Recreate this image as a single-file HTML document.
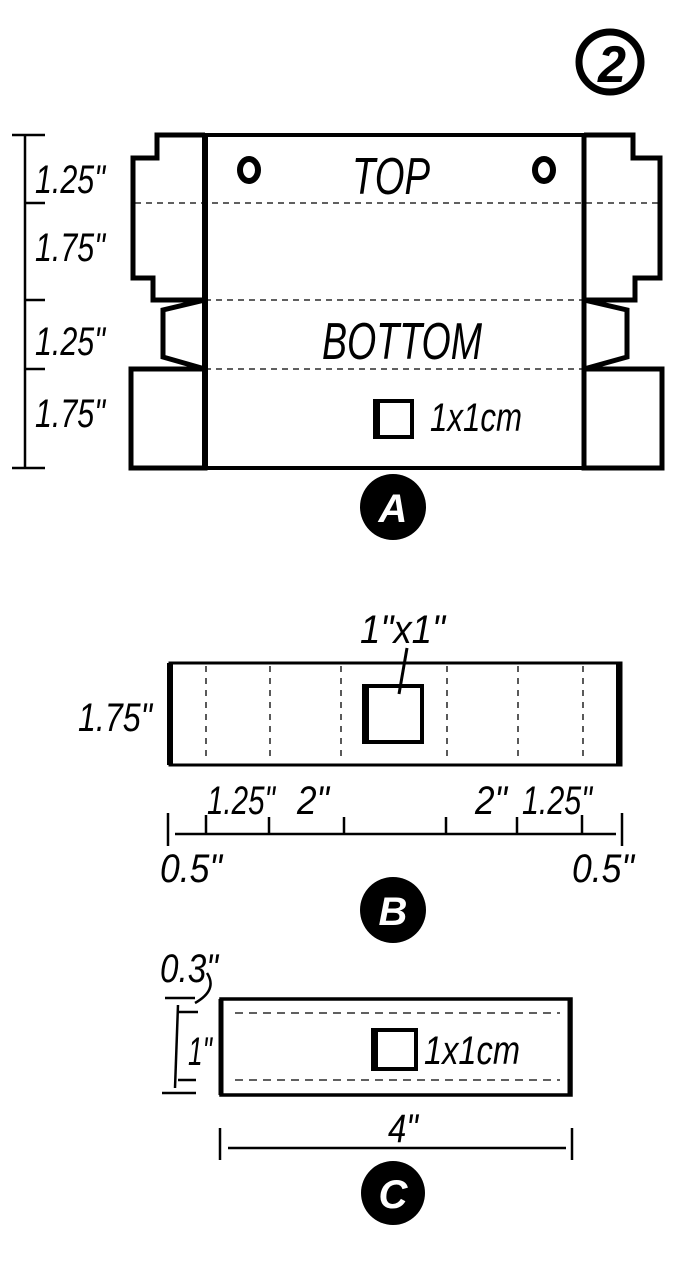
<!DOCTYPE html>
<html><head><meta charset="utf-8"><style>
html,body{margin:0;padding:0;background:#fff;}
svg{display:block}
text{font-family:"Liberation Sans",sans-serif;font-style:italic;fill:#000;}
</style></head><body>
<svg width="696" height="1266" viewBox="0 0 696 1266" xmlns="http://www.w3.org/2000/svg">
<g fill="none" stroke="#000" stroke-linejoin="miter">
<!-- top-right badge -->
<ellipse cx="610" cy="62" rx="31" ry="30" stroke-width="7"/>

<!-- Panel A -->
<rect x="205" y="135" width="379" height="333" stroke-width="4"/>
<line x1="205" y1="135" x2="205" y2="468" stroke-width="6"/>
<line x1="584" y1="135" x2="584" y2="468" stroke-width="5"/>
<path d="M205 135 L157 135 L157 158 L133 158 L133 278 L153 278 L153 300 L205 300" stroke-width="5"/>
<path d="M205 300 L163 310 L163 357 L205 369" stroke-width="5"/>
<rect x="131" y="369" width="74" height="99" stroke-width="5"/>
<path d="M584 135 L633 135 L633 158 L660 158 L660 278 L635 278 L635 300 L584 300" stroke-width="5"/>
<path d="M584 300 L627 310 L627 357 L584 369" stroke-width="5"/>
<rect x="584" y="369" width="78" height="99" stroke-width="5"/>
<g stroke-width="1.3" stroke-dasharray="6 5">
<line x1="135" y1="203" x2="658" y2="203"/>
<line x1="205" y1="300" x2="584" y2="300"/>
<line x1="205" y1="369" x2="584" y2="369"/>
</g>
<ellipse cx="249" cy="170" rx="9" ry="11" stroke-width="6"/>
<ellipse cx="544" cy="170" rx="9" ry="11" stroke-width="6"/>
<rect x="375" y="401" width="37" height="36" stroke-width="4"/>
<line x1="377" y1="401" x2="377" y2="437" stroke-width="6"/>
<g stroke-width="2.5">
<line x1="25" y1="135" x2="25" y2="468"/>
<line x1="12" y1="135" x2="45" y2="135"/>
<line x1="25" y1="203" x2="45" y2="203"/>
<line x1="25" y1="300" x2="45" y2="300"/>
<line x1="25" y1="369" x2="45" y2="369"/>
<line x1="12" y1="468" x2="45" y2="468"/>
</g>

<!-- Panel B -->
<rect x="170" y="663" width="451" height="102" stroke-width="3"/>
<line x1="170" y1="663" x2="170" y2="765" stroke-width="6"/>
<line x1="619" y1="663" x2="619" y2="765" stroke-width="6"/>
<g stroke-width="1.3" stroke-dasharray="6 6">
<line x1="206" y1="666" x2="206" y2="762"/>
<line x1="270" y1="666" x2="270" y2="762"/>
<line x1="341" y1="666" x2="341" y2="762"/>
<line x1="447" y1="666" x2="447" y2="762"/>
<line x1="518" y1="666" x2="518" y2="762"/>
<line x1="583" y1="666" x2="583" y2="762"/>
</g>
<rect x="364" y="686" width="58" height="56" stroke-width="4"/>
<line x1="366" y1="686" x2="366" y2="742" stroke-width="6"/>
<line x1="407" y1="648" x2="399" y2="694" stroke-width="3"/>
<g stroke-width="2.5">
<line x1="175" y1="834" x2="616" y2="834"/>
<line x1="168" y1="813" x2="168" y2="846"/>
<line x1="622" y1="813" x2="622" y2="846"/>
<line x1="206" y1="815" x2="206" y2="834"/>
<line x1="269" y1="817" x2="269" y2="834"/>
<line x1="344" y1="817" x2="344" y2="834"/>
<line x1="446" y1="817" x2="446" y2="834"/>
<line x1="517" y1="817" x2="517" y2="834"/>
<line x1="582" y1="815" x2="582" y2="834"/>
</g>

<!-- Panel C -->
<rect x="221" y="999" width="350" height="96" stroke-width="3.5"/>
<line x1="221" y1="999" x2="221" y2="1095" stroke-width="5"/>
<line x1="570" y1="999" x2="570" y2="1095" stroke-width="5"/>
<g stroke-width="1.3" stroke-dasharray="8 6">
<line x1="235" y1="1013" x2="560" y2="1013"/>
<line x1="235" y1="1080" x2="560" y2="1080"/>
</g>
<rect x="373" y="1030" width="43" height="39" stroke-width="4"/>
<line x1="375" y1="1030" x2="375" y2="1069" stroke-width="6"/>
<g stroke-width="2.5">
<line x1="178" y1="1005" x2="175" y2="1088"/>
<line x1="165" y1="998" x2="195" y2="998"/>
<line x1="178" y1="1012" x2="198" y2="1012"/>
<line x1="178" y1="1080" x2="196" y2="1080"/>
<line x1="162" y1="1093" x2="196" y2="1093"/>
<path d="M207 973 Q218 990 195 1003"/>
<line x1="228" y1="1148" x2="566" y2="1148"/>
<line x1="220" y1="1128" x2="220" y2="1160"/>
<line x1="572" y1="1128" x2="572" y2="1160"/>
</g>
</g>

<text x="612" y="82" font-size="52" font-weight="bold" text-anchor="middle" textLength="28" lengthAdjust="spacingAndGlyphs">2</text>

<!-- badges -->
<circle cx="393" cy="507" r="33" fill="#000"/>
<circle cx="393" cy="910" r="33" fill="#000"/>
<circle cx="393" cy="1193" r="32" fill="#000"/>
<text x="393" y="522" font-size="40" text-anchor="middle" style="fill:#fff" font-weight="bold">A</text>
<text x="393" y="925" font-size="40" text-anchor="middle" style="fill:#fff" font-weight="bold">B</text>
<text x="393" y="1208" font-size="40" text-anchor="middle" style="fill:#fff" font-weight="bold">C</text>

<!-- labels -->
<g font-size="40">
<text x="35" y="193" textLength="70" lengthAdjust="spacingAndGlyphs">1.25"</text>
<text x="35" y="261" textLength="70" lengthAdjust="spacingAndGlyphs">1.75"</text>
<text x="35" y="355" textLength="70" lengthAdjust="spacingAndGlyphs">1.25"</text>
<text x="35" y="427" textLength="70" lengthAdjust="spacingAndGlyphs">1.75"</text>
<text x="352" y="194" font-size="52" textLength="78" lengthAdjust="spacingAndGlyphs">TOP</text>
<text x="322" y="359" font-size="52" textLength="160" lengthAdjust="spacingAndGlyphs">BOTTOM</text>
<text x="430" y="431" textLength="92" lengthAdjust="spacingAndGlyphs">1x1cm</text>
<text x="360" y="643" textLength="85" lengthAdjust="spacingAndGlyphs">1"x1"</text>
<text x="78" y="731" textLength="74" lengthAdjust="spacingAndGlyphs">1.75"</text>
<text x="207" y="814" textLength="68" lengthAdjust="spacingAndGlyphs">1.25"</text>
<text x="297" y="814" textLength="32" lengthAdjust="spacingAndGlyphs">2"</text>
<text x="475" y="814" textLength="32" lengthAdjust="spacingAndGlyphs">2"</text>
<text x="522" y="814" textLength="70" lengthAdjust="spacingAndGlyphs">1.25"</text>
<text x="160" y="882" textLength="62" lengthAdjust="spacingAndGlyphs">0.5"</text>
<text x="572" y="882" textLength="62" lengthAdjust="spacingAndGlyphs">0.5"</text>
<text x="160" y="982" textLength="58" lengthAdjust="spacingAndGlyphs">0.3"</text>
<text x="188" y="1065" textLength="24" lengthAdjust="spacingAndGlyphs">1"</text>
<text x="424" y="1064" textLength="96" lengthAdjust="spacingAndGlyphs">1x1cm</text>
<text x="388" y="1142" textLength="30" lengthAdjust="spacingAndGlyphs">4"</text>
</g>
</svg>
</body></html>
